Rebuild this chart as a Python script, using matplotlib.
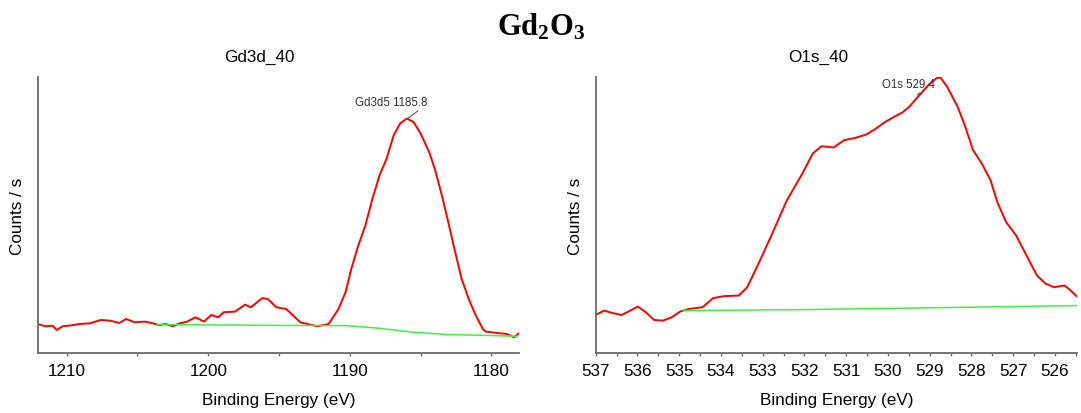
import numpy as np
import matplotlib.pyplot as plt
from matplotlib.ticker import MultipleLocator

plt.rcParams['font.family'] = ['Liberation Sans', 'DejaVu Sans']
plt.rcParams['mathtext.fontset'] = 'custom'
plt.rcParams['mathtext.bf'] = 'Liberation Serif:bold'
plt.rcParams['mathtext.rm'] = 'Liberation Serif:bold'

# Gd3d region (binding energy in eV, counts/s in arbitrary units)
gd_energy = [1212.05, 1211.5, 1211.0, 1210.7, 1210.3, 1209.8, 1209.1, 1208.35, 1207.6, 1206.9,
             1206.3, 1205.8, 1205.2, 1204.5, 1204.0, 1203.5, 1203.0, 1202.5, 1202.0, 1201.5,
             1200.9, 1200.3, 1199.8, 1199.3, 1198.9, 1198.1, 1197.4, 1197.0, 1196.7, 1196.2,
             1195.8, 1195.2, 1194.5, 1194.0, 1193.5, 1192.8, 1192.3, 1191.5, 1190.8, 1190.3,
             1189.9, 1189.4, 1188.9, 1188.4, 1187.9, 1187.4, 1186.9, 1186.45, 1185.97, 1185.5,
             1185.0, 1184.4, 1184.0, 1183.5, 1183.05, 1182.56, 1182.1, 1181.6, 1181.1, 1180.6,
             1180.4, 1179.6, 1178.9, 1178.4, 1178.05]
gd_counts = [2900, 2670, 2730, 2300, 2670, 2740, 2900, 2970, 3300, 3230,
             3000, 3400, 3070, 3140, 3000, 2800, 2900, 2670, 2970, 3140,
             3570, 3140, 3800, 3570, 4080, 4140, 4840, 4570, 4900, 5480,
             5410, 4580, 4400, 3740, 3070, 2840, 2670, 2900, 4400, 6080,
             8400, 10760, 12760, 15440, 17770, 19450, 21780, 22950, 23450, 23100,
             21950, 20100, 18440, 15770, 13100, 10100, 7400, 5400, 3740, 2400,
             2140, 2000, 1900, 1570, 1970]
gd_bg_energy = [1203.6, 1200.0, 1195.0, 1190.3, 1187.9, 1185.5, 1183.0, 1180.6, 1178.2]
gd_bg_counts = [2840, 2810, 2760, 2740, 2470, 2070, 1840, 1770, 1670]

# O1s region
o_energy = [537.0, 536.8, 536.6, 536.38, 536.17, 535.99, 535.8, 535.6, 535.39, 535.18,
            534.98, 534.77, 534.44, 534.19, 533.94, 533.57, 533.37, 533.12, 532.79, 532.42,
            532.05, 531.8, 531.59, 531.3, 531.05, 530.77, 530.52, 530.31, 530.06, 529.82,
            529.65, 529.49, 529.24, 529.03, 528.82, 528.74, 528.58, 528.33, 528.16, 527.96,
            527.75, 527.54, 527.38, 527.17, 526.93, 526.68, 526.43, 526.22, 526.02, 525.77,
            525.65, 525.48]
o_counts = [3800, 4240, 4000, 3800, 4240, 4640, 4080, 3300, 3240, 3570,
            4140, 4400, 4580, 5480, 5680, 5750, 6580, 8750, 11760, 15270,
            17940, 19950, 20680, 20550, 21280, 21520, 21850, 22380, 23120, 23690,
            24060, 24620, 25800, 26800, 27530, 27530, 26630, 24620, 22790, 20280,
            18940, 17270, 15100, 13100, 11760, 9760, 7750, 6920, 6580, 6750,
            6350, 5680]
o_bg_energy = [534.9, 532.0, 529.0, 525.48]
o_bg_counts = [4240, 4340, 4520, 4740]

W, H = 1081, 414
fig = plt.figure(figsize=(W / 100, H / 100), dpi=100)

axes_px = [(37.7, 519.0), (595.7, 1077.0)]
top_px, bottom_px = 77.7, 354.0
xlims = [(1212.05, 1178.05), (537.0, 525.47)]
spine_col = '#6a6a6a'
fs = 12.3


def make_axes(i):
    x0, x1 = axes_px[i]
    ax = fig.add_axes([x0 / W, 1 - bottom_px / H, (x1 - x0) / W, (bottom_px - top_px) / H])
    ax.set_xlim(*xlims[i])
    ax.set_ylim(0, 27630)
    for s in ['top', 'right']:
        ax.spines[s].set_visible(False)
    for s in ['left', 'bottom']:
        ax.spines[s].set_color(spine_col)
        ax.spines[s].set_linewidth(1.3)
    ax.set_yticks([])
    ax.tick_params(axis='x', which='both', direction='out', color=spine_col,
                   labelsize=fs, pad=4.5, length=2.5, width=1)
    ax.set_xlabel('Binding Energy (eV)', fontsize=fs, labelpad=10)
    return ax


ax1 = make_axes(0)
ax1.xaxis.set_major_locator(MultipleLocator(10))
ax1.xaxis.set_minor_locator(MultipleLocator(5))
ax1.plot(gd_energy, gd_counts, color='#ff0000', lw=1.4)
ax1.plot(gd_bg_energy, gd_bg_counts, color='#44ee44', lw=1.1)
ax1.annotate('Gd3d5 1185.8', xy=(1185.9, 23450), xytext=(1189.6, 25100),
             fontsize=8.3, color='#333333', ha='left', va='center',
             arrowprops=dict(arrowstyle='-', color='#555555', lw=0.8,
                             shrinkA=0, shrinkB=0, relpos=(1.0, 0.4)))

ax2 = make_axes(1)
ax2.xaxis.set_major_locator(MultipleLocator(1))
ax2.xaxis.set_minor_locator(MultipleLocator(0.5))
ax2.plot(o_energy, o_counts, color='#ff0000', lw=1.4)
ax2.plot(o_bg_energy, o_bg_counts, color='#44ee44', lw=1.1)
ax2.annotate('O1s 529.4', xy=(529.3, 25800), xytext=(530.13, 26900),
             fontsize=8.3, color='#333333', ha='left', va='center',
             arrowprops=dict(arrowstyle='-', color='#555555', lw=0.8,
                             shrinkA=0, shrinkB=0, relpos=(1.0, 0.8)))

# panel titles and y labels
fig.text(259 / W, 1 - 57 / H, 'Gd3d_40', fontsize=fs, ha='center', va='center')
fig.text(818 / W, 1 - 57 / H, 'O1s_40', fontsize=fs, ha='center', va='center')
fig.text(18 / W, 1 - 216 / H, 'Counts / s', fontsize=fs, rotation=90, ha='center', va='center')
fig.text(576 / W, 1 - 216 / H, 'Counts / s', fontsize=fs, rotation=90, ha='center', va='center')

fig.text(541 / W, 1 - 27 / H, r'$\mathbf{Gd_2O_3}$', fontsize=22, ha='center', va='center')

fig.savefig('out.png', dpi=100)
